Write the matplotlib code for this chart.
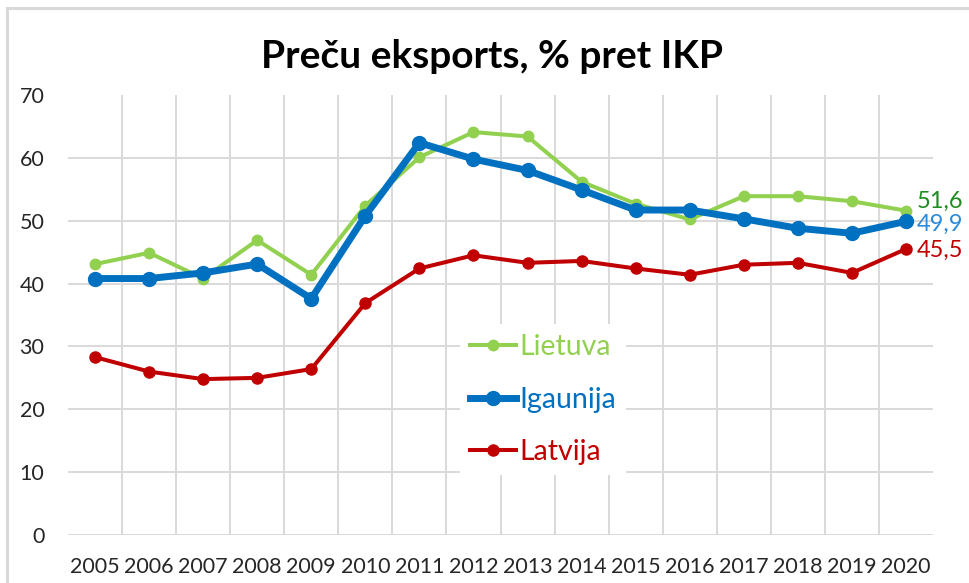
import matplotlib
matplotlib.use('Agg')
import matplotlib.pyplot as plt
from matplotlib.patches import Rectangle

plt.rcParams['font.family'] = ['Lato', 'DejaVu Sans']

years = ['2005', '2006', '2007', '2008', '2009', '2010', '2011', '2012',
         '2013', '2014', '2015', '2016', '2017', '2018', '2019', '2020']
lietuva = [43.1, 44.9, 40.8, 46.9, 41.4, 52.4, 60.1, 64.1,
           63.4, 56.2, 52.7, 50.2, 53.9, 53.9, 53.1, 51.6]
igaunija = [40.8, 40.8, 41.7, 43.1, 37.6, 50.8, 62.4, 59.8,
            58.0, 54.9, 51.7, 51.7, 50.3, 48.8, 48.0, 49.9]
latvija = [28.3, 26.0, 24.8, 25.0, 26.4, 36.9, 42.4, 44.5,
           43.3, 43.6, 42.4, 41.4, 43.0, 43.3, 41.7, 45.5]

green = '#92D050'
blue = '#0070C0'
red = '#C00000'

W, H = 969, 583
fig = plt.figure(figsize=(W / 100, H / 100), dpi=100)
fig.patch.set_facecolor('white')

# chart border (only left and top visible in the crop)
fig.patches.append(Rectangle((7 / W, -0.1), 1.2, 1 - 8 / H + 0.1,
                             transform=fig.transFigure, fill=False,
                             ec='#D9D9D9', lw=2.2, zorder=0))

ax = fig.add_axes([68 / W, 1 - 535 / H, (933 - 68) / W, (535 - 95) / H])
x = list(range(len(years)))
ax.set_xlim(-0.5, len(years) - 0.5)
ax.set_ylim(0, 70)

for s in ax.spines.values():
    s.set_visible(False)

# gridlines: horizontal 0..60, vertical between categories
for v in range(0, 70, 10):
    ax.axhline(v, color='#D9D9D9', lw=1.4, zorder=1)
for b in range(len(years) - 1):
    ax.axvline(b + 0.5, color='#D9D9D9', lw=1.4, zorder=1)

ax.plot(x, lietuva, color=green, lw=2.9, marker='o', ms=7.5, label='Lietuva', zorder=3)
ax.plot(x, igaunija, color=blue, lw=5, marker='o', ms=10, label='Igaunija', zorder=4)
ax.plot(x, latvija, color=red, lw=2.9, marker='o', ms=8, label='Latvija', zorder=3)

ax.set_xticks(x)
ax.set_xticklabels(years)
ax.set_yticks(range(0, 80, 10))
ax.tick_params(axis='both', length=0, labelsize=15.5, colors='#262626')
ax.tick_params(axis='y', pad=17)
ax.tick_params(axis='x', pad=16)

# end labels
ax.annotate('51,6', (x[-1], lietuva[-1]), xytext=(8, 7), textcoords='offset points',
            color='#1E8C1E', fontsize=17, va='center', ha='left', annotation_clip=False)
ax.annotate('49,9', (x[-1], igaunija[-1]), xytext=(8, -2.5), textcoords='offset points',
            color='#2E8BD8', fontsize=17, va='center', ha='left', annotation_clip=False)
ax.annotate('45,5', (x[-1], latvija[-1]), xytext=(8, -1), textcoords='offset points',
            color=red, fontsize=17, va='center', ha='left', annotation_clip=False)

leg = ax.legend(loc='upper left', bbox_to_anchor=((446 - 68) / (933 - 68), (535 - 310) / (535 - 95)),
                frameon=True, fancybox=False, edgecolor='none', facecolor='white',
                framealpha=1, fontsize=20.5, handlelength=1.6, handletextpad=0.12,
                labelspacing=0.93, borderpad=0.35)
for txt, c in zip(leg.get_texts(), [green, blue, red]):
    txt.set_color(c)
leg.set_zorder(5)

fig.text(492 / W, 1 - 57 / H, 'Preču eksports, % pret IKP', ha='center', va='center',
         fontsize=28, fontweight='bold', color='black')

fig.savefig('out.png', dpi=100, facecolor='white')
